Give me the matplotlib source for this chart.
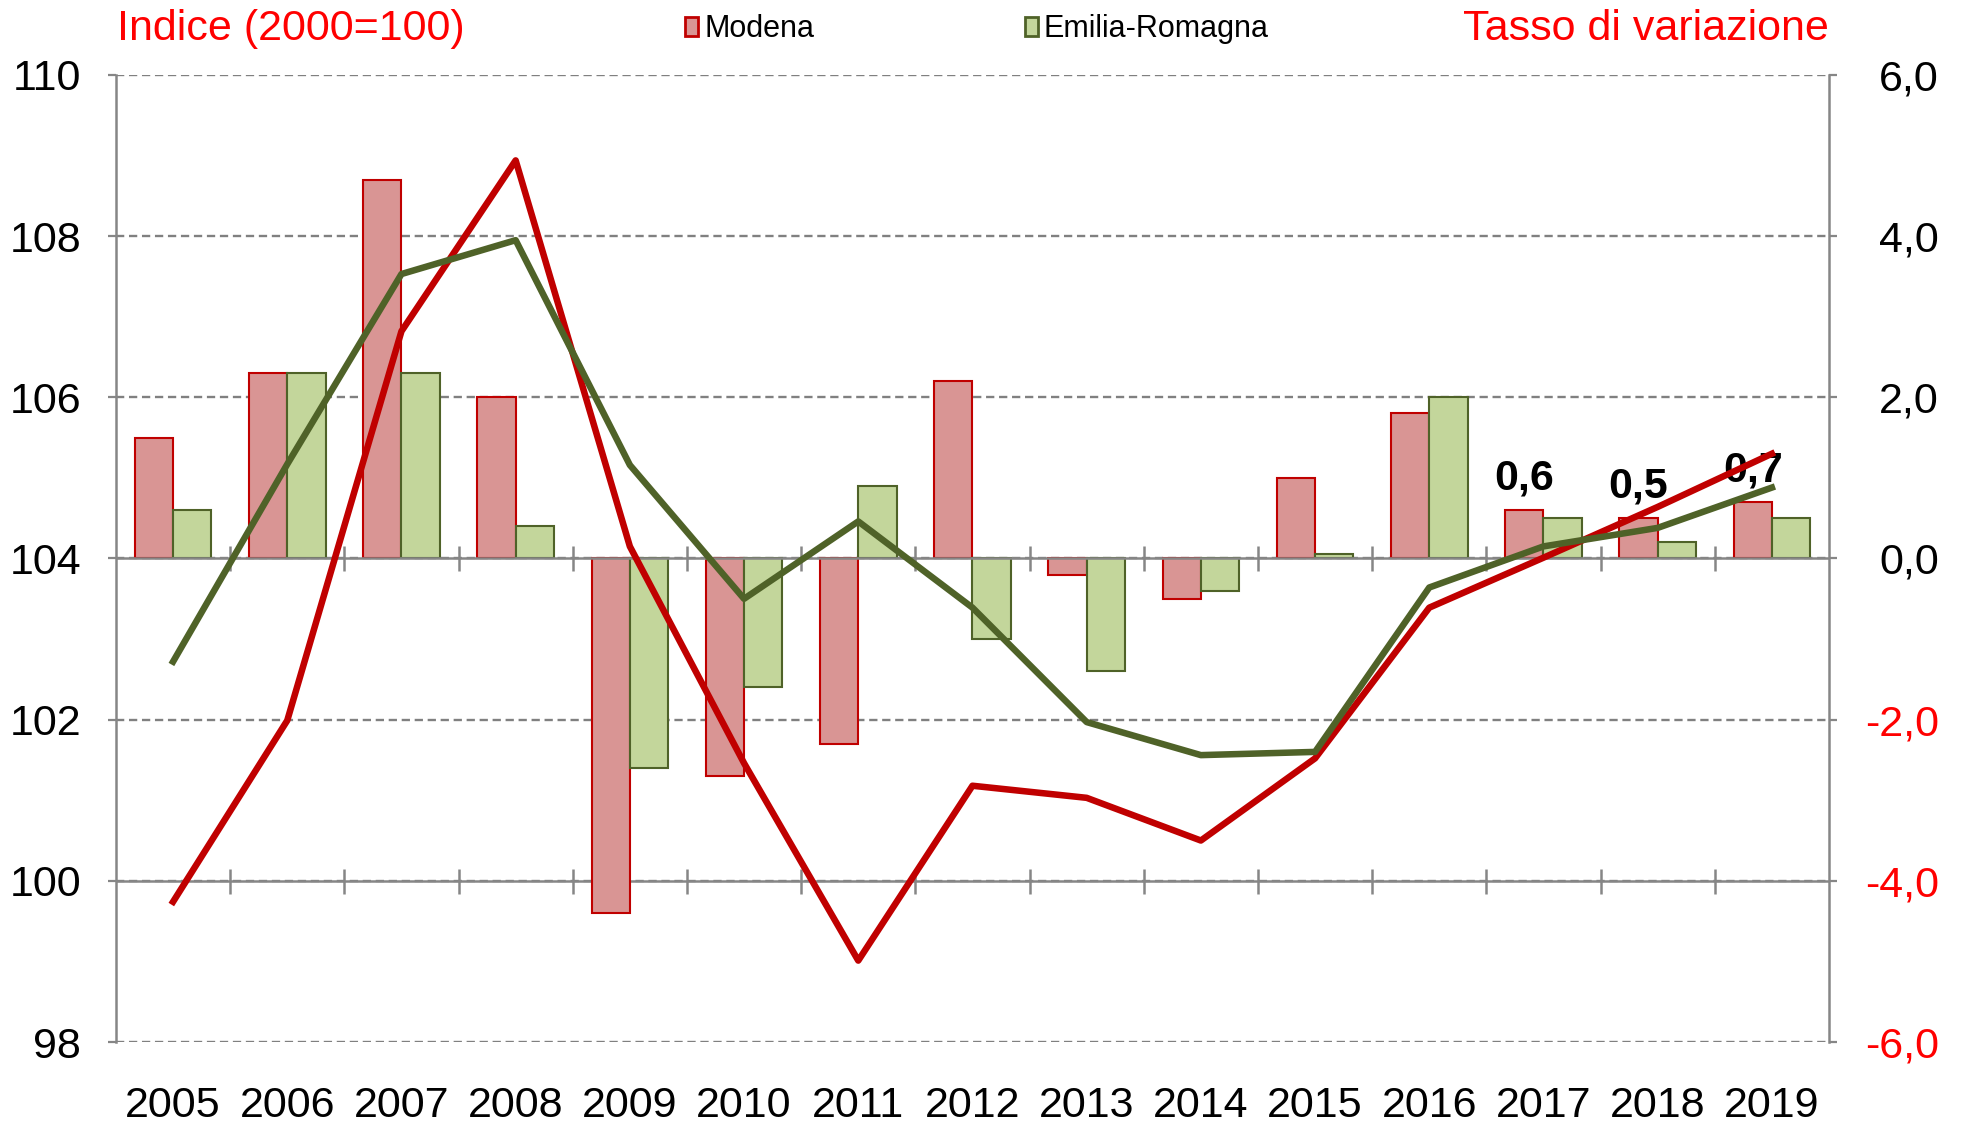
import matplotlib.pyplot as plt
from matplotlib.patches import Patch
from matplotlib.transforms import blended_transform_factory

plt.rcParams['font.family'] = ['Liberation Sans', 'DejaVu Sans']

years = [str(y) for y in range(2005, 2020)]

# indice (2000=100), asse sinistro
modena_index = [99.74, 101.99, 106.82, 108.94, 104.15, 101.46, 99.01, 101.18,
                101.03, 100.50, 101.52, 103.39, 104.01, 104.64, 105.30]
er_index = [102.72, 105.17, 107.53, 107.95, 105.16, 103.50, 104.46, 103.39,
            101.97, 101.56, 101.60, 103.64, 104.15, 104.38, 104.88]

# tasso di variazione, asse destro
modena_rate = [1.5, 2.3, 4.7, 2.0, -4.4, -2.7, -2.3, 2.2, -0.2, -0.5, 1.0, 1.8, 0.6, 0.5, 0.7]
er_rate = [0.6, 2.3, 2.3, 0.4, -2.6, -1.6, 0.9, -1.0, -1.4, -0.4, 0.05, 2.0, 0.5, 0.2, 0.5]

labelled_years = ['2017', '2018', '2019']

RED = '#C00000'
OLIVE = '#4F6228'
GREY = '#868686'

fig = plt.figure(figsize=(19.62, 11.26), dpi=100)
ax1 = fig.add_axes([0.0591, 0.0746, 0.8731, 0.8588])
ax2 = ax1.twinx()
ax1.set_zorder(ax2.get_zorder() + 1)
ax1.patch.set_visible(False)

x = list(range(len(years)))
w = 0.335

# barre (tassi) sull'asse destro
ax2.bar([i - w / 2 for i in x], modena_rate, width=w, color='#D99594',
        edgecolor=RED, linewidth=1.5, zorder=2)
ax2.bar([i + w / 2 for i in x], er_rate, width=w, color='#C3D69B',
        edgecolor=OLIVE, linewidth=1.5, zorder=2)

for yr in labelled_years:
    i = years.index(yr)
    v = modena_rate[i]
    ax2.annotate(f"{v:.1f}".replace('.', ','), (i - w / 2, v), xytext=(0, 15),
                 textcoords='offset points', ha='center', va='baseline',
                 fontsize=31, fontweight='bold', zorder=5)

# linee (indici) sull'asse sinistro
ax1.plot(x, modena_index, color=RED, linewidth=4.7, solid_joinstyle='round')
ax1.plot(x, er_index, color=OLIVE, linewidth=4.7, solid_joinstyle='round')

ax1.set_xlim(-0.5, len(years) - 0.5)
ax1.set_ylim(98, 110)
ax2.set_ylim(-6, 6)

# griglia tratteggiata
ax2.set_yticks(range(-6, 7, 2))
ax2.yaxis.grid(True, color='#808080', linestyle=(0, (3.5, 2)), linewidth=1.7)
ax2.set_axisbelow(True)

# assi orizzontali pieni: zero dei tassi e 100 dell'indice
bounds = [i + 0.5 for i in x[:-1]]
ax2.axhline(0, color=GREY, linewidth=1.8, zorder=2.5)
ax2.plot(bounds, [0] * len(bounds), linestyle='none', marker='|',
         markersize=18, markeredgewidth=1.8, color=GREY, zorder=2.5)
tr = blended_transform_factory(ax2.transAxes, ax1.transData)
ax2.plot([0, 1], [100, 100], color=GREY, linewidth=1.8, transform=tr, zorder=1.5)
tr2 = blended_transform_factory(ax1.transData, ax1.transData)
ax2.plot(bounds, [100] * len(bounds), linestyle='none', marker='|',
         markersize=18, markeredgewidth=1.8, color=GREY, transform=tr2, zorder=1.5)

for s in ['top', 'bottom', 'right']:
    ax1.spines[s].set_visible(False)
for s in ['top', 'bottom', 'left']:
    ax2.spines[s].set_visible(False)
ax1.spines['left'].set_color(GREY)
ax1.spines['left'].set_linewidth(1.8)
ax2.spines['right'].set_color(GREY)
ax2.spines['right'].set_linewidth(1.8)

ax1.set_yticks(range(98, 111, 2))
ax1.set_yticklabels([str(v) for v in range(98, 111, 2)])
ax1.tick_params(axis='y', length=6, width=1.6, color=GREY, labelsize=31, pad=19)

ax2.set_yticklabels([f"{v:.1f}".replace('.', ',') for v in range(-6, 7, 2)])
ax2.tick_params(axis='y', length=6, width=1.6, color=GREY, labelsize=31, pad=73)
for lbl, v in zip(ax2.get_yticklabels(), range(-6, 7, 2)):
    lbl.set_horizontalalignment('right')
    lbl.set_color('#FF0000' if v < 0 else 'black')

ax1.set_xticks(x)
ax1.set_xticklabels(years)
ax1.tick_params(axis='x', length=0, labelsize=31, pad=32)

fig.text(0.0596, 0.974, 'Indice (2000=100)', color='#FF0000', fontsize=31,
         ha='left', va='center')
fig.text(0.9322, 0.974, 'Tasso di variazione', color='#FF0000', fontsize=31,
         ha='right', va='center')

handles = [Patch(facecolor='#D99594', edgecolor=RED, linewidth=2),
           Patch(facecolor='#C3D69B', edgecolor=OLIVE, linewidth=2)]
fig.legend(handles, ['Modena', 'Emilia-Romagna'], loc='center',
           bbox_to_anchor=(0.498, 0.974), ncol=2, frameon=False, fontsize=22,
           handlelength=0.42, handleheight=0.6, handletextpad=0.2,
           columnspacing=6.9)

fig.savefig('out.png', dpi=100)
